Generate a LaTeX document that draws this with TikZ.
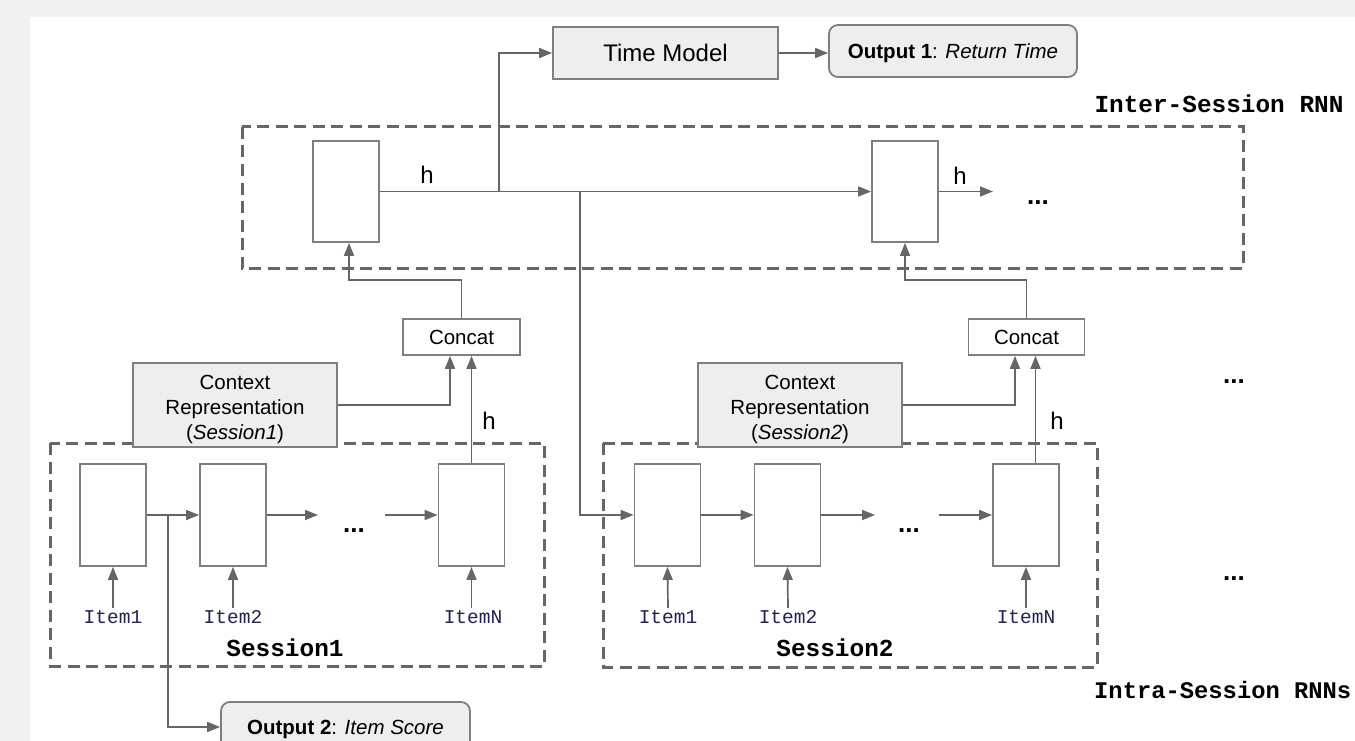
\documentclass[tikz,border=0pt]{standalone}
\usepackage{fontspec}
\setmainfont{Liberation Sans}
\setmonofont{Liberation Mono}
\usetikzlibrary{arrows.meta,calc}
\definecolor{linec}{HTML}{666666}
\definecolor{boxc}{HTML}{7F7F7F}
\definecolor{fillc}{HTML}{EEEEEE}
\definecolor{bgc}{HTML}{F1F1F1}
\definecolor{itemc}{HTML}{22224F}
\begin{document}
\begin{tikzpicture}[x=1pt,y=-1pt,
  arr/.style={draw=linec,line width=1.7pt,-{Triangle[length=13pt,width=10pt]}},
  ln/.style={draw=linec,line width=1.7pt},
  dbox/.style={draw=linec,line width=3pt,dash pattern=on 12pt off 6.5pt},
  cell/.style={draw=boxc,line width=1.8pt,fill=white,minimum width=66pt,minimum height=102pt,inner sep=0pt},
  graybox/.style={draw=boxc,line width=1.8pt,fill=fillc,inner sep=0pt,align=center},
  whitebox/.style={draw=boxc,line width=1.8pt,fill=white,inner sep=0pt,align=center},
  rbox/.style={draw=boxc,line width=1.8pt,fill=fillc,rounded corners=9pt,inner sep=0pt,align=center},
  txt/.style={font=\fontsize{20.5}{25}\selectfont,text depth=0pt},
  bigtxt/.style={font=\fontsize{24}{28}\selectfont},
  itemtxt/.style={font=\ttfamily\fontsize{19.5}{22}\selectfont,text=itemc,inner sep=2pt},
  monob/.style={font=\ttfamily\bfseries\fontsize{24.4}{28}\selectfont},
  dots/.style={font=\bfseries\fontsize{26}{30}\selectfont}
]
% background
\fill[bgc] (0,0) rectangle (1355,741);
\fill[white] (30,17) rectangle (1355,741);
\useasboundingbox (0,0) rectangle (1355,741);

% dashed groups
\draw[dbox] (242,127) rectangle (1243,268);
\draw[dbox] (50,443) rectangle (544,666);
\draw[dbox] (603,443) rectangle (1097,667);

% top boxes
\node[graybox,bigtxt,minimum width=225pt,minimum height=52pt] (tm) at (665.5,53) {Time Model};
\node[rbox,txt,minimum width=248pt,minimum height=52pt] (o1) at (953,51) {\textbf{Output 1}: \textit{Return Time}};
\node[monob,anchor=west] (lint) at (1091,104) {Inter-Session RNN};

% inter-session cells
\node[cell,minimum height=101pt] (ic1) at (346,191.5) {};
\node[cell,minimum height=101pt] (ic2) at (905,191.5) {};
\node[bigtxt] (h1) at (427,175) {h};
\node[bigtxt] (h2) at (960,176) {h};
\node[dots] (d1) at (1038,203) {...};
\coordinate (icout) at (993,191.5);
\coordinate (b1) at (499,191.5);
\coordinate (b2) at (580,191.5);

% concat boxes
\node[whitebox,txt,minimum width=117pt,minimum height=36pt] (cc1) at (461.5,337) {Concat};
\node[whitebox,txt,minimum width=116pt,minimum height=36pt] (cc2) at (1026.5,337) {Concat};

% context boxes
\node[graybox,txt,minimum width=204pt,minimum height=84pt] (ctx1) at (235,405) {\rule{0pt}{0pt}};
\node[txt,align=center,inner sep=0pt] (ctx1t) at (235,407) {Context\\Representation\\(\textit{Session1})};
\node[graybox,txt,minimum width=204pt,minimum height=84pt] (ctx2) at (800,405) {\rule{0pt}{0pt}};
\node[txt,align=center,inner sep=0pt] (ctx2t) at (800,407) {Context\\Representation\\(\textit{Session2})};
\node[bigtxt] (h3) at (489,421) {h};
\node[bigtxt] (h4) at (1057,421) {h};

% session 1 cells
\node[cell] (s1c1) at (113,515) {};
\node[cell] (s1c2) at (233,515) {};
\node[cell] (s1cN) at (471.5,515) {};
\node[dots] (d2) at (354,531) {...};
\coordinate (s1a) at (318,515);
\coordinate (s1b) at (385,515);
\coordinate (b3) at (168,515);
\node[itemtxt] (i11) at (113,617) {Item1};
\node[itemtxt] (i12) at (233,617) {Item2};
\node[itemtxt] (i1N) at (473,617) {ItemN};
\node[monob] (ls1) at (285,648) {Session1};

% session 2 cells
\node[cell] (s2c1) at (667.5,515) {};
\node[cell] (s2c2) at (787.5,515) {};
\node[cell] (s2cN) at (1026,515) {};
\node[dots] (d3) at (909,531) {...};
\coordinate (s2a) at (875,515);
\coordinate (s2b) at (939,515);
\node[itemtxt] (i21) at (668,617) {Item1};
\node[itemtxt] (i22) at (788,617) {Item2};
\node[itemtxt] (i2N) at (1026,617) {ItemN};
\node[monob] (ls2) at (835,648) {Session2};

% right side
\node[dots] (d4) at (1234,382) {...};
\node[dots] (d5) at (1234,579) {...};
\node[monob,font=\ttfamily\bfseries\fontsize{23.8}{28}\selectfont,anchor=west,inner sep=0pt] (lintra) at (1094,690) {Intra-Session RNNs};

% output 2
\node[rbox,txt,minimum width=249pt,minimum height=50pt] (o2) at (345.5,727) {\textbf{Output 2}: \textit{Item Score}};

% connectors: top
\draw[arr] (tm.east) -- (tm.east -| o1.west);
\draw[arr] (ic1.east) -- (ic2.west);
\draw[arr] (b1) |- (tm.west);
\draw[arr] (b2) |- (s2c1.west);
\draw[arr] (ic2.east) -- (icout);
\draw[arr] (cc1.north) -- ++(0,-38) -| ([xshift=3pt]ic1.south);
\draw[arr] (cc2.north) -- ++(0,-38) -| (ic2.south);

% connectors: session 1
\draw[arr] (ctx1.east) -| ([xshift=-11.5pt]cc1.south);
\draw[arr] (s1cN.north) -- (s1cN.north |- cc1.south);
\draw[arr] (s1c1.east) -- (s1c2.west);
\draw[arr] (s1c2.east) -- (s1a);
\draw[arr] (s1b) -- (s1cN.west);
\draw[arr] (b3) |- (o2.west);
\draw[arr] (i11.north) -- (s1c1.south);
\draw[arr] (i12.north) -- (s1c2.south);
\draw[arr] (i1N.north -| s1cN.south) -- (s1cN.south);

% connectors: session 2
\draw[arr] (ctx2.east) -| ([xshift=-11.5pt]cc2.south);
\draw[arr] ([xshift=9pt]cc2.south |- s2cN.north) -- ([xshift=9pt]cc2.south);
\draw[arr] (s2c1.east) -- (s2c2.west);
\draw[arr] (s2c2.east) -- (s2a);
\draw[arr] (s2b) -- (s2cN.west);
\draw[arr] (i21.north) -- (s2c1.south);
\draw[arr] (i22.north) -- (s2c2.south);
\draw[arr] (i2N.north) -- (s2cN.south);
\end{tikzpicture}
\end{document}
